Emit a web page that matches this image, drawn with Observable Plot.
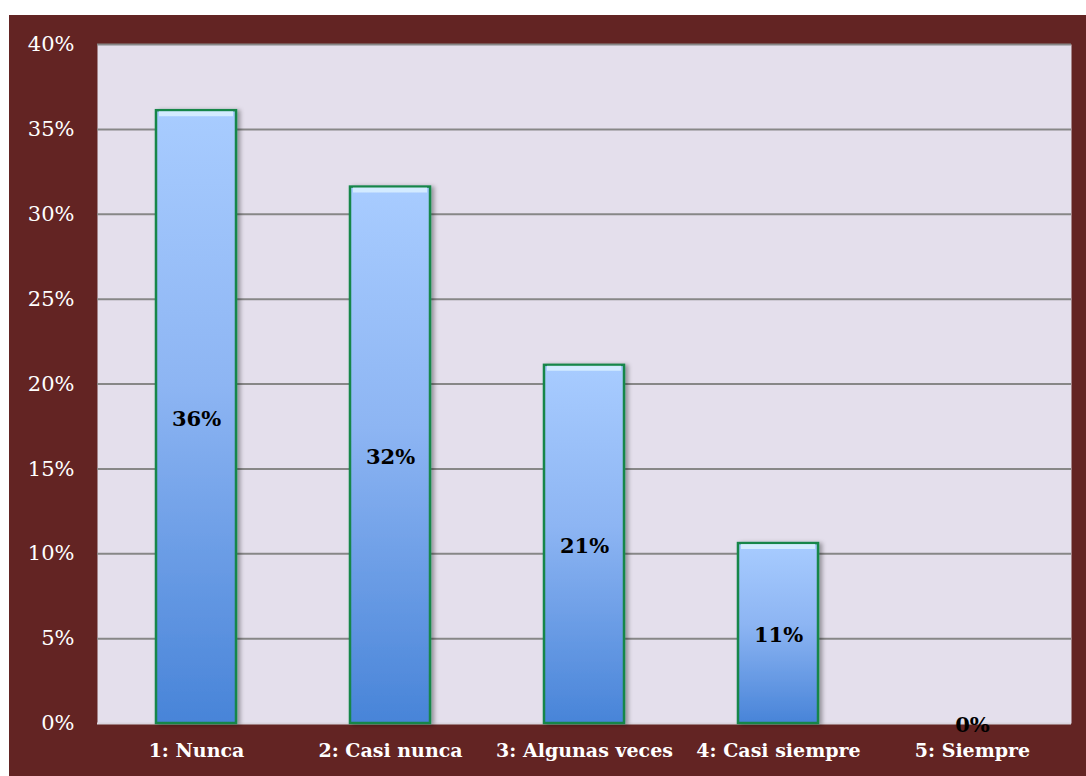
<!DOCTYPE html>
<html>
<head>
<meta charset="utf-8">
<script src="https://cdn.jsdelivr.net/npm/d3@7"></script>
<script src="https://cdn.jsdelivr.net/npm/@observablehq/plot@0.6"></script>
<style>
  html, body { margin: 0; padding: 0; background: #ffffff; }
  #chart { position: absolute; left: 9px; top: 15px; width: 1077px; height: 761px; background: #632423; }
  #chart svg { display: block; }
</style>
</head>
<body>
<div id="chart"></div>
<script>
const categories = ["1: Nunca", "2: Casi nunca", "3: Algunas veces", "4: Casi siempre", "5: Siempre"];
const values = [0.361, 0.316, 0.211, 0.106, 0];
const yTicks = [0, 0.05, 0.10, 0.15, 0.20, 0.25, 0.30, 0.35, 0.40];

const data = categories.map((c, i) => ({category: c, value: values[i]}));
const pct = d3.format(".0%");
const serif = "'DejaVu Serif', serif";

const plot = Plot.plot({
  width: 1077,
  height: 761,
  marginLeft: 88,
  marginRight: 15,
  marginTop: 29,
  marginBottom: 53,
  style: {background: "transparent", fontFamily: serif, overflow: "visible"},
  x: {domain: categories, paddingInner: 0.59, paddingOuter: 0.295, label: null},
  y: {domain: [0, 0.40], label: null},
  marks: [
    Plot.frame({fill: "#E4DFEC", stroke: null}),
    Plot.ruleY(yTicks.filter(d => d > 0), {stroke: "#878787", strokeWidth: 2}),
    Plot.ruleY([0], {stroke: "#D9D5DE", strokeWidth: 2}),
    Plot.barY(data, {x: "category", y: "value", fill: "url(#barGrad)", stroke: "#17864A", strokeWidth: 2.5,
      filter: d => d.value > 0, className: "bars"}),
    Plot.tickY(data, {x: "category", y: "value", stroke: "#E2F6FF", strokeWidth: 5, dy: 3, insetLeft: 3, insetRight: 3,
      strokeOpacity: 0.75, filter: d => d.value > 0}),
    Plot.axisY({ticks: yTicks, tickFormat: pct, tickSize: 0, tickPadding: 23, fontSize: 21, fill: "#ffffff", fontFamily: serif}),
    Plot.axisX({tickSize: 0, tickPadding: 20, fontSize: 19, fontWeight: "bold", fill: "#ffffff", fontFamily: serif}),
    Plot.text(data, {x: "category", y: d => d.value / 2, dy: 2, text: d => pct(d.value), fontSize: 21, fontWeight: "bold", fill: "#000000", fontFamily: serif})
  ]
});

const svg = d3.select(plot);
const defs = svg.insert("defs", ":first-child");
const g = defs.append("linearGradient").attr("id", "barGrad").attr("x1", 0).attr("y1", 0).attr("x2", 0).attr("y2", 1);
g.append("stop").attr("offset", "0%").attr("stop-color", "#A8CCFF");
g.append("stop").attr("offset", "45%").attr("stop-color", "#8DB5F3");
g.append("stop").attr("offset", "100%").attr("stop-color", "#4884D8");
const f = defs.append("filter").attr("id", "barShadow").attr("x", "-10%").attr("y", "-5%").attr("width", "130%").attr("height", "110%");
f.append("feDropShadow").attr("dx", 3).attr("dy", 1).attr("stdDeviation", 2).attr("flood-color", "#000").attr("flood-opacity", 0.35);
svg.selectAll("g.bars").attr("filter", "url(#barShadow)");

document.getElementById("chart").appendChild(plot);
</script>
</body>
</html>
